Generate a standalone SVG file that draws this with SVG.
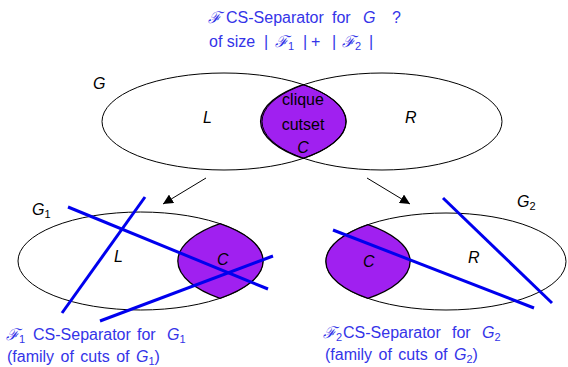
<svg xmlns="http://www.w3.org/2000/svg" width="568" height="367" viewBox="0 0 568 367">
<defs>
<marker id="ah" viewBox="0 0 10 10" refX="10" refY="5" markerWidth="10" markerHeight="10" markerUnits="userSpaceOnUse" orient="auto">
<path d="M0,0 L10,5 L0,10 z" fill="#000"/>
</marker>
<style>
text{font-family:"Liberation Sans",Arial,sans-serif;font-size:16px;fill:#000}
.b{fill:#3434e8}
.i{font-style:italic}
.sub{font-size:11px}
.ell{fill:none;stroke:#000;stroke-width:1}
.lens{fill:#a020f0;stroke:#000;stroke-width:1.3}
.cut{stroke:#0000ee;stroke-width:3;fill:none}
.arr{stroke:#000;stroke-width:1;fill:none;marker-end:url(#ah)}
</style>
</defs>
<rect width="568" height="367" fill="#fff"/>

<g id="title">
<text class="b" y="23"><tspan x="208" class="i">ℱ</tspan><tspan x="226">CS-Separator</tspan><tspan x="332">for</tspan><tspan x="363" class="i">G</tspan><tspan x="392">?</tspan></text>
<text class="b" y="47"><tspan x="209">of size</tspan><tspan x="264">|</tspan><tspan x="275" class="i">ℱ</tspan><tspan class="sub" dy="3">1</tspan><tspan x="303" dy="-3">|</tspan><tspan x="311">+</tspan><tspan x="332">|</tspan><tspan x="342" class="i">ℱ</tspan><tspan class="sub" dy="3">2</tspan><tspan x="369" dy="-3">|</tspan></text>
</g>

<g id="G">
<path class="lens" d="M303,84.5 A122,48.5 0 0 1 303,158.5 A120,48.5 0 0 1 303,84.5 Z"/>
<ellipse class="ell" cx="224" cy="121.5" rx="122" ry="48.5"/>
<ellipse class="ell" cx="382" cy="121.5" rx="120" ry="48.5"/>
<text class="i" x="93" y="89">G</text>
<text class="i" x="203" y="123">L</text>
<text class="i" x="405" y="123">R</text>
<text x="303" y="105" text-anchor="middle">clique</text>
<text x="303" y="130" text-anchor="middle">cutset</text>
<text class="i" x="303" y="153" text-anchor="middle">C</text>
</g>

<g id="connectors">
<line class="arr" x1="206" y1="178" x2="163" y2="204"/>
<line class="arr" x1="367" y1="178" x2="410" y2="204"/>
</g>

<g id="G1">
<ellipse class="ell" cx="140.5" cy="261" rx="122.5" ry="49"/>
<path class="lens" d="M220,223.7 A122.5,49 0 0 1 220,298.3 A120,49 0 0 1 220,223.7 Z"/>
<text class="i" x="32" y="215">G<tspan class="sub" dy="3" font-style="normal">1</tspan></text>
<text class="i" x="114" y="262">L</text>
<text class="i" x="217" y="265">C</text>
<line class="cut" x1="68" y1="207" x2="268" y2="289"/>
<line class="cut" x1="145" y1="197" x2="62" y2="313"/>
<line class="cut" x1="273" y1="256" x2="100" y2="321"/>
</g>

<g id="G2">
<ellipse class="ell" cx="446" cy="261.5" rx="120" ry="48.5"/>
<path class="lens" d="M368,224.6 A120,48.5 0 0 0 368,298.4 A120,48.5 0 0 0 368,224.6 Z"/>
<text class="i" x="517" y="207">G<tspan class="sub" dy="3" font-style="normal">2</tspan></text>
<text class="i" x="363" y="267">C</text>
<text class="i" x="468" y="263">R</text>
<line class="cut" x1="333" y1="230" x2="534" y2="308"/>
<line class="cut" x1="443" y1="198" x2="552" y2="303"/>
</g>

<g id="label1">
<text class="b" y="340"><tspan x="6" class="i">ℱ</tspan><tspan class="sub" dy="3">1</tspan><tspan x="33" dy="-3">CS-Separator</tspan><tspan x="137">for</tspan><tspan x="167" class="i">G</tspan><tspan class="sub" dy="3">1</tspan></text>
<text class="b" y="362" x="7" word-spacing="2">(family of cuts of <tspan class="i">G</tspan><tspan class="sub" dy="3">1</tspan><tspan dy="-3">)</tspan></text>
</g>

<g id="label2">
<text class="b" y="338"><tspan x="323" class="i">ℱ</tspan><tspan class="sub" dy="3">2</tspan><tspan x="343" dy="-3">CS-Separator</tspan><tspan x="452">for</tspan><tspan x="482" class="i">G</tspan><tspan class="sub" dy="3">2</tspan></text>
<text class="b" y="360" x="325" word-spacing="2">(family of cuts of <tspan class="i">G</tspan><tspan class="sub" dy="3">2</tspan><tspan dy="-3">)</tspan></text>
</g>
</svg>
